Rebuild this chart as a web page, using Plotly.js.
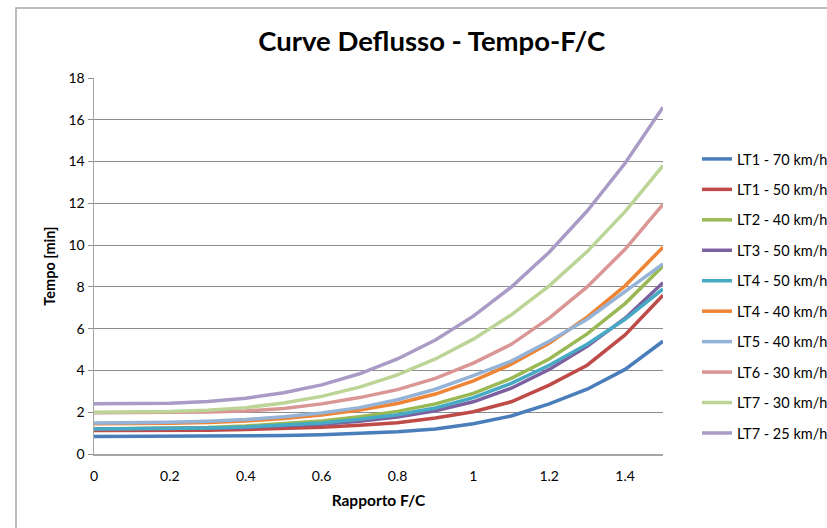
<!DOCTYPE html>
<html>
<head>
<meta charset="utf-8">
<script src="https://cdn.plot.ly/plotly-3.0.1.min.js"></script>
<style>html,body{margin:0;padding:0;background:#fff;}#chart{width:827px;height:528px;}</style>
</head>
<body>
<div id="chart"></div>
<script>
// X values: Rapporto F/C
const ratio = [0, 0.1, 0.2, 0.3, 0.4, 0.5, 0.6, 0.7, 0.8, 0.9, 1.0, 1.1, 1.2, 1.3, 1.4, 1.5];

// Series (Tempo [min])
const lt1_70 = [0.84, 0.84, 0.84, 0.85, 0.86, 0.88, 0.92, 0.98, 1.06, 1.20, 1.45, 1.82, 2.40, 3.10, 4.05, 5.40];
const lt1_50 = [1.12, 1.12, 1.13, 1.14, 1.17, 1.21, 1.28, 1.38, 1.50, 1.72, 2.02, 2.50, 3.30, 4.25, 5.70, 7.60];
const lt2_40 = [1.20, 1.21, 1.23, 1.27, 1.34, 1.44, 1.58, 1.78, 2.04, 2.40, 2.90, 3.62, 4.55, 5.75, 7.20, 9.00];
const lt3_50 = [1.20, 1.20, 1.21, 1.23, 1.27, 1.33, 1.43, 1.57, 1.77, 2.07, 2.50, 3.15, 4.05, 5.15, 6.50, 8.20];
const lt4_50 = [1.20, 1.20, 1.21, 1.24, 1.29, 1.37, 1.49, 1.66, 1.88, 2.20, 2.70, 3.38, 4.25, 5.25, 6.45, 7.90];
const lt4_40 = [1.45, 1.45, 1.47, 1.51, 1.58, 1.70, 1.87, 2.10, 2.42, 2.87, 3.50, 4.30, 5.30, 6.55, 8.05, 9.90];
const lt5_40 = [1.48, 1.49, 1.52, 1.57, 1.65, 1.78, 1.96, 2.22, 2.60, 3.10, 3.75, 4.45, 5.40, 6.45, 7.75, 9.10];
const lt6_30 = [1.98, 1.98, 1.99, 2.01, 2.06, 2.18, 2.40, 2.70, 3.08, 3.62, 4.35, 5.25, 6.50, 8.00, 9.80, 11.95];
const lt7_30 = [2.00, 2.00, 2.03, 2.09, 2.22, 2.44, 2.76, 3.20, 3.79, 4.55, 5.50, 6.66, 8.05, 9.69, 11.60, 13.80];
const lt7_25 = [2.40, 2.40, 2.43, 2.51, 2.67, 2.93, 3.31, 3.84, 4.55, 5.46, 6.60, 7.99, 9.66, 11.63, 13.92, 16.60];

const seriesNames = ["LT1 - 70 km/h", "LT1 - 50 km/h", "LT2 - 40 km/h", "LT3 - 50 km/h", "LT4 - 50 km/h",
                     "LT4 - 40 km/h", "LT5 - 40 km/h", "LT6 - 30 km/h", "LT7 - 30 km/h", "LT7 - 25 km/h"];
const seriesValues = [lt1_70, lt1_50, lt2_40, lt3_50, lt4_50, lt4_40, lt5_40, lt6_30, lt7_30, lt7_25];
const seriesColors = ["#4A7EBB", "#BE4B48", "#98B954", "#7D60A0", "#46AAC5",
                      "#EE8434", "#95B3D7", "#D99694", "#BCD495", "#AA9BC6"];

const xTicks = [0, 0.2, 0.4, 0.6, 0.8, 1, 1.2, 1.4];
const xTickText = ["0", "0.2", "0.4", "0.6", "0.8", "1", "1.2", "1.4"];
const yTicks = [0, 2, 4, 6, 8, 10, 12, 14, 16, 18];

const FONT = "Lato, 'Open Sans', 'DejaVu Sans', sans-serif";

const traces = seriesValues.map((vals, i) => ({
  x: ratio,
  y: vals,
  type: "scatter",
  mode: "lines",
  name: seriesNames[i],
  legendgroup: "g" + i,
  line: {color: seriesColors[i], width: 3.5}
}));

const layout = {
  width: 827,
  height: 528,
  margin: {l: 94, r: 164, t: 78, b: 74},
  paper_bgcolor: "#ffffff",
  plot_bgcolor: "#ffffff",
  font: {family: FONT, size: 14, color: "#000"},
  title: {
    text: "<b>Curve Deflusso - Tempo-F/C</b>",
    font: {family: FONT, size: 27.5, color: "#000"},
    x: 0.522, xanchor: "center",
    y: 0.922, yanchor: "middle"
  },
  xaxis: {
    range: [0, 1.5],
    tickmode: "array",
    tickvals: xTicks,
    ticktext: xTickText,
    showgrid: false,
    zeroline: false,
    showline: true,
    linecolor: "#A6A6A6",
    linewidth: 1.5,
    ticks: "",
    ticklen: 0,
    ticklabelstandoff: 9,
    tickfont: {family: FONT, size: 14},
    title: {text: "<b>Rapporto F/C</b>", font: {family: FONT, size: 15.5}, standoff: 12}
  },
  yaxis: {
    range: [0, 18],
    tickmode: "array",
    tickvals: yTicks,
    showgrid: true,
    gridcolor: "#8C8C8C",
    gridwidth: 1,
    zeroline: false,
    showline: true,
    linecolor: "#A6A6A6",
    linewidth: 1.5,
    ticks: "outside",
    ticklen: 5,
    tickcolor: "#8C8C8C",
    tickfont: {family: FONT, size: 14},
    title: {text: "<b>Tempo [min]</b>", font: {family: FONT, size: 14.5}, standoff: 9}
  },
  showlegend: true,
  legend: {
    xref: "container", yref: "container",
    x: 697 / 827, xanchor: "left",
    y: 1 - 143 / 528, yanchor: "top",
    maxheight: 420,
    font: {family: FONT, size: 14.5, color: "#000"},
    bgcolor: "rgba(0,0,0,0)",
    tracegroupgap: 8.6,
    itemwidth: 30
  },
  shapes: [{
    type: "rect", xref: "paper", yref: "paper",
    x0: (16 - 94) / 569, x1: 1.6,
    y0: -0.3, y1: 1 + (78 - 8) / 376,
    line: {color: "#A6A6A6", width: 1.5},
    fillcolor: "rgba(0,0,0,0)",
    layer: "below"
  }]
};

Plotly.newPlot("chart", traces, layout, {displayModeBar: false, staticPlot: true});
</script>
</body>
</html>
